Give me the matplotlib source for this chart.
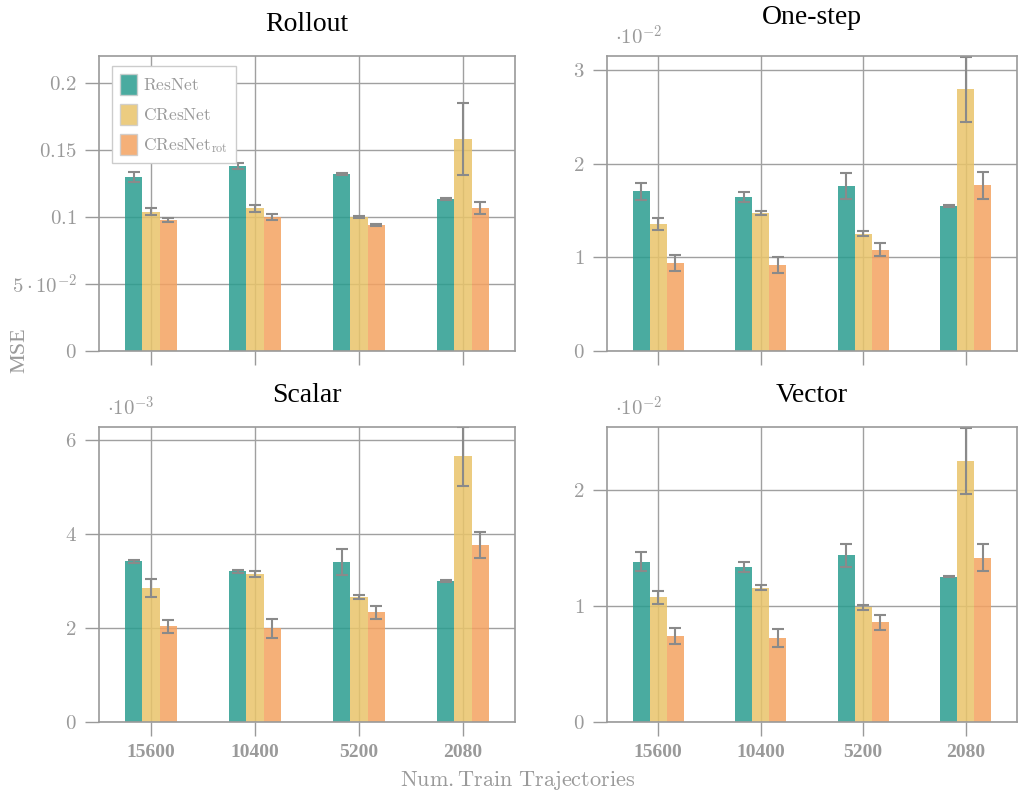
"""Bar chart grid: MSE vs number of training trajectories for three models."""

import numpy as np
import matplotlib
matplotlib.use("Agg")
import matplotlib.pyplot as plt
from matplotlib.patches import Patch

matplotlib.rcParams["mathtext.fontset"] = "cm"
matplotlib.rcParams["font.family"] = "Liberation Serif"

categories = ["15600", "10400", "5200", "2080"]
models = ["ResNet", "CResNet", "CResNetrot"]
legend_labels = [r"$\mathrm{ResNet}$", r"$\mathrm{CResNet}$", r"$\mathrm{CResNet}_{\mathrm{rot}}$"]

# values per panel, rows = models, columns = categories (scaled by the panel exponent)
rollout_mean = [[0.1297, 0.1381, 0.1322, 0.1133],
                [0.1039, 0.1066, 0.0999, 0.1580],
                [0.0979, 0.0999, 0.0939, 0.1066]]
rollout_err = [[0.0040, 0.0020, 0.0006, 0.0007],
               [0.0026, 0.0026, 0.0006, 0.0267],
               [0.0014, 0.0024, 0.0010, 0.0047]]

onestep_mean = [[1.708, 1.644, 1.765, 1.552],
                [1.356, 1.473, 1.253, 2.797],
                [0.940, 0.918, 1.082, 1.772]]
onestep_err = [[0.091, 0.050, 0.137, 0.010],
               [0.062, 0.020, 0.025, 0.347],
               [0.087, 0.090, 0.071, 0.144]]

scalar_mean = [[3.418, 3.206, 3.397, 2.993],
               [2.844, 3.149, 2.652, 5.660],
               [2.035, 1.993, 2.333, 3.766]]
scalar_err = [[0.032, 0.032, 0.277, 0.020],
              [0.190, 0.057, 0.043, 0.628],
              [0.140, 0.200, 0.138, 0.280]]

vector_mean = [[1.381, 1.338, 1.436, 1.252],
               [1.072, 1.158, 0.986, 2.249],
               [0.739, 0.722, 0.857, 1.415]]
vector_err = [[0.079, 0.043, 0.100, 0.007],
              [0.052, 0.020, 0.024, 0.284],
              [0.069, 0.077, 0.066, 0.116]]

colors = ["#2a9d8f", "#e9c46a", "#f4a261"]
gray = "#9a9a9a"
err_gray = "#8a8a8a"

W, H = 1030, 796
fig = plt.figure(figsize=(W / 100, H / 100), dpi=100)


def px_axes(x0, y0, x1, y1):
    return fig.add_axes([x0 / W, 1 - y1 / H, (x1 - x0) / W, (y1 - y0) / H])


panels = [
    ("Rollout", rollout_mean, rollout_err, (99, 56, 515, 351), 0.22,
     [0, 0.05, 0.1, 0.15, 0.2], [r"$0$", r"$5\cdot10^{-2}$", r"$0.1$", r"$0.15$", r"$0.2$"], None, 18),
    ("One-step", onestep_mean, onestep_err, (607, 56, 1017, 351), 3.15,
     [0, 1, 2, 3], None, r"$\cdot10^{-2}$", 23),
    ("Scalar", scalar_mean, scalar_err, (99, 427, 515, 722), 6.28,
     [0, 2, 4, 6], None, r"$\cdot10^{-3}$", 18),
    ("Vector", vector_mean, vector_err, (607, 427, 1017, 722), 2.54,
     [0, 1, 2], None, r"$\cdot10^{-2}$", 18),
]

x = np.arange(len(categories))
width = 1 / 6

for i, (title, mean, err, box, ytop, yticks, ylabels, offset, tpad) in enumerate(panels):
    ax = px_axes(*box)
    ax.set_axisbelow(True)
    for m in range(len(models)):
        ax.bar(x + (m - 1) * width, mean[m], width, color=colors[m], alpha=0.85,
               linewidth=0, label=legend_labels[m])
        ax.errorbar(x + (m - 1) * width, mean[m], yerr=err[m], fmt="none",
                    ecolor=err_gray, elinewidth=1.5, capsize=4.5, capthick=1.5)
    ax.set_xlim(-0.5, 3.5)
    ax.set_ylim(0, ytop)
    ax.set_xticks(x)
    ax.set_yticks(yticks)
    if ylabels is None:
        ylabels = [rf"${t:g}$" for t in yticks]
    ax.set_yticklabels(ylabels, fontsize=15, color=gray)
    if i >= 2:
        ax.set_xticklabels(categories, fontsize=14, fontweight="bold", color=gray)
    else:
        ax.set_xticklabels([])
    ax.tick_params(axis="both", direction="out", length=10, width=1, color=gray, pad=6)
    ax.grid(True, color="#a0a0a0", linewidth=1)
    for s in ax.spines.values():
        s.set_color(gray)
        s.set_linewidth(1.2)
    ax.set_title(title, fontsize=20, pad=tpad)
    if offset:
        ax.text(0.02, 1.02, offset, transform=ax.transAxes, fontsize=15,
                color=gray, ha="left", va="bottom")
    if i == 0:
        leg = ax.legend(handles=[Patch(facecolor=c, alpha=0.85, edgecolor="#cccccc")
                                 for c in colors],
                        labels=legend_labels, loc="upper left", bbox_to_anchor=(0.031, 0.966),
                        borderaxespad=0, fontsize=12.5, fancybox=False, framealpha=1,
                        handlelength=1.0, handleheight=1.5, labelspacing=0.5,
                        borderpad=0.45, handletextpad=0.35)
        leg.get_frame().set_edgecolor("#cccccc")
        for t in leg.get_texts():
            t.set_color(gray)

fig.text(20 / W, 1 - 350 / H, "MSE", rotation=90, fontsize=16, color=gray,
         ha="center", va="center")
fig.text(518 / W, 1 - 781 / H, r"$\mathrm{Num.\!\!\ Train\ Trajectories}$", fontsize=16,
         color=gray, ha="center", va="center")

fig.savefig("out.png", dpi=100)
print("out.png created")
